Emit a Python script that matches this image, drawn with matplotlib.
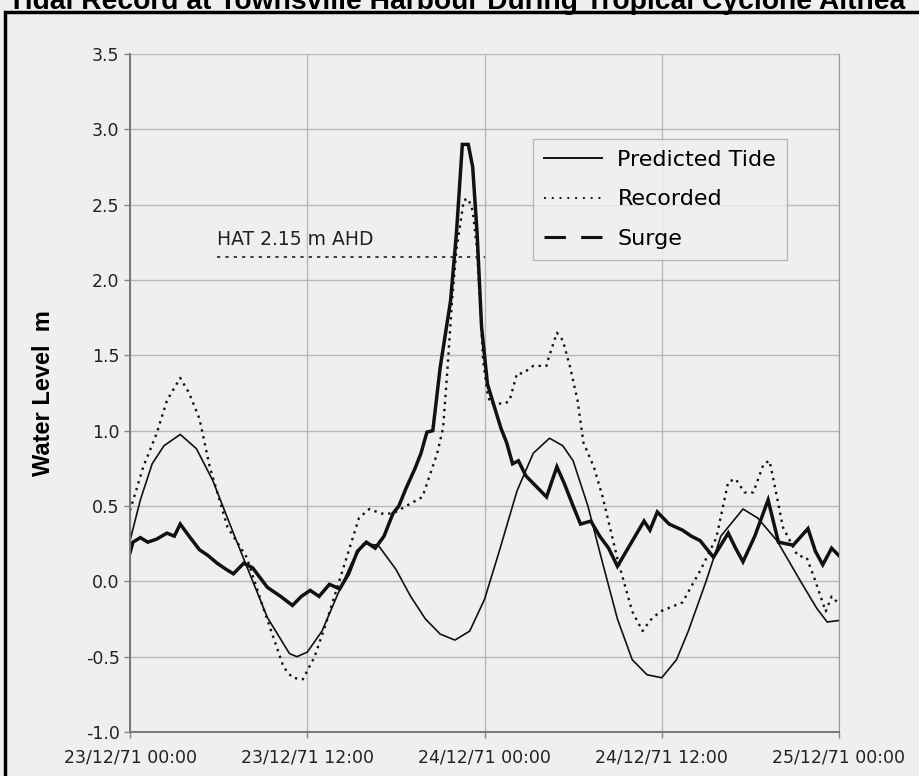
import matplotlib
matplotlib.use("Agg")
import matplotlib.pyplot as plt
from matplotlib.lines import Line2D
from matplotlib.patches import Rectangle

# hours after 23/12/71 00:00
tide_hours = [0, 0.7, 1.5, 2.3, 3.4, 4.5, 5.6, 7.0, 7.9, 9.3, 10.8, 11.3, 12.0, 13.0, 14.0, 15.0,
              15.8, 16.8, 18.0, 19.0, 20.0, 21.0, 22.0, 23.0, 24.0, 25.0, 26.2, 27.3, 28.4, 29.3,
              30.0, 31.0, 32.0, 33.0, 34.0, 35.0, 36.0, 37.0, 37.8, 39.0, 40.0, 41.5, 42.5, 43.8,
              45.4, 46.5, 47.2, 48.0]
tide = [0.27, 0.54, 0.78, 0.9, 0.975, 0.88, 0.67, 0.32, 0.1, -0.24, -0.48, -0.5, -0.47, -0.33,
        -0.1, 0.12, 0.25, 0.24, 0.08, -0.1, -0.25, -0.35, -0.39, -0.33, -0.12, 0.2, 0.6, 0.85,
        0.95, 0.9, 0.8, 0.5, 0.12, -0.25, -0.52, -0.62, -0.64, -0.52, -0.33, 0.0, 0.3, 0.48,
        0.42, 0.27, 0.0, -0.18, -0.27, -0.26]

rec_hours = [0, 0.9, 1.8, 2.5, 3.4, 4.0, 4.7, 5.4, 6.6, 7.9, 9.0, 10.4, 11.0, 11.7, 12.5, 13.2,
             14.0, 14.8, 15.5, 16.2, 17.0, 17.8, 18.7, 19.8, 20.8, 21.2, 21.5, 21.8, 22.1, 22.6,
             22.9, 23.2, 23.5, 23.7, 23.9, 24.2, 24.4, 25.4, 25.7, 26.2, 26.6, 27.3, 28.2, 28.3,
             28.9, 29.3, 29.8, 30.3, 30.7, 31.4, 32.0, 33.0, 34.0, 34.7, 35.2, 35.9, 37.4, 38.6,
             39.7, 40.5, 41.0, 41.6, 42.2, 42.9, 43.3, 43.8, 44.2, 45.2, 45.8, 46.3, 47.1, 47.5,
             48.0]
recorded = [0.47, 0.76, 0.98, 1.2, 1.35, 1.25, 1.08, 0.76, 0.36, 0.16, -0.17, -0.57, -0.64,
            -0.65, -0.5, -0.3, -0.05, 0.2, 0.42, 0.48, 0.45, 0.45, 0.5, 0.56, 0.85, 1.02, 1.42,
            1.86, 2.2, 2.53, 2.54, 2.46, 2.2, 1.86, 1.47, 1.25, 1.18, 1.18, 1.2, 1.38, 1.38, 1.43,
            1.43, 1.47, 1.65, 1.6, 1.42, 1.2, 0.92, 0.76, 0.56, 0.15, -0.2, -0.33, -0.26, -0.2,
            -0.14, 0.07, 0.29, 0.66, 0.68, 0.59, 0.59, 0.78, 0.8, 0.56, 0.36, 0.17, 0.16, 0.03,
            -0.2, -0.1, -0.15]

surge_hours = [0, 0.2, 0.7, 1.2, 1.8, 2.5, 3.0, 3.4, 4.0, 4.7, 5.3, 5.9, 6.5, 7.0, 7.7, 8.3,
               9.3, 10.2, 11.0, 11.6, 12.2, 12.8, 13.5, 14.2, 14.8, 15.4, 16.0, 16.6, 17.2, 17.8,
               18.2, 18.7, 19.3, 19.7, 20.1, 20.5, 21.0, 21.7, 22.1, 22.5, 22.9, 23.2, 23.5, 23.8,
               24.2, 24.6, 25.1, 25.5, 25.9, 26.3, 26.8, 27.3, 28.2, 28.9, 29.4, 30.0, 30.5, 31.2,
               31.8, 32.4, 33.0, 33.6, 34.2, 34.8, 35.2, 35.7, 36.5, 37.4, 38.0, 38.6, 39.5, 40.5,
               41.0, 41.5, 42.3, 43.2, 43.9, 44.9, 45.9, 46.4, 46.9, 47.5, 48.0]
surge = [0.19, 0.26, 0.29, 0.26, 0.28, 0.32, 0.3, 0.38, 0.3, 0.21, 0.17, 0.12, 0.08, 0.05, 0.12,
         0.09, -0.04, -0.1, -0.16, -0.1, -0.06, -0.1, -0.02, -0.05, 0.05, 0.2, 0.26, 0.22, 0.3,
         0.45, 0.5, 0.62, 0.75, 0.85, 0.99, 1.0, 1.42, 1.86, 2.31, 2.9, 2.9, 2.75, 2.31, 1.69,
         1.31, 1.18, 1.02, 0.92, 0.78, 0.8, 0.7, 0.65, 0.56, 0.76, 0.65, 0.5, 0.38, 0.4, 0.3,
         0.22, 0.1, 0.2, 0.3, 0.4, 0.34, 0.46, 0.38, 0.34, 0.3, 0.27, 0.16, 0.32, 0.22, 0.13,
         0.3, 0.54, 0.26, 0.24, 0.35, 0.2, 0.11, 0.22, 0.17]

hat_level = 2.15
hat_hours = [5.9, 24.0]

tick_hours = [0, 12, 24, 36, 48]
tick_labels = ["23/12/71 00:00", "23/12/71 12:00", "24/12/71 00:00", "24/12/71 12:00", "25/12/71 00:00"]
y_ticks = [-1.0, -0.5, 0.0, 0.5, 1.0, 1.5, 2.0, 2.5, 3.0, 3.5]

bg = "#efefed"
fig = plt.figure(figsize=(9.19, 7.76), dpi=100, facecolor=bg)
ax = fig.add_axes([130 / 919, 1 - 732 / 776, 709 / 919, 678 / 776], facecolor=bg)

ax.plot(tide_hours, tide, color="#111111", lw=1.2)
ax.plot(rec_hours, recorded, color="#111111", lw=1.7, linestyle=(0, (1, 2)))
ax.plot(surge_hours, surge, color="#111111", lw=2.5, solid_joinstyle="miter")
ax.plot(hat_hours, [hat_level, hat_level], color="#222222", lw=1.2, linestyle=(0, (2, 3)))
ax.text(hat_hours[0], 2.27, "HAT 2.15 m AHD", fontsize=13.5, color="#222222", va="center")

ax.set_xlim(0, 48)
ax.set_ylim(-1.0, 3.5)
ax.set_xticks(tick_hours)
ax.set_xticklabels(tick_labels)
ax.set_yticks(y_ticks)
ax.set_yticklabels([f"{v:.1f}" for v in y_ticks])
ax.tick_params(axis="both", labelsize=12.5, colors="#888888", labelcolor="#222222", length=4, width=1)
ax.tick_params(axis="x", pad=8)
ax.grid(True, color="#b8b8b8", lw=1)
ax.set_axisbelow(True)
for side in ["left", "bottom"]:
    ax.spines[side].set_color("#777777")
    ax.spines[side].set_linewidth(1.4)
ax.spines["right"].set_color("#999999")
ax.spines["top"].set_visible(False)

ax.set_ylabel("Water Level  m", family="Liberation Sans", fontweight="bold", fontsize=17, labelpad=22)

handles = [Line2D([], [], color="#111111", lw=1.4),
           Line2D([], [], color="#111111", lw=1.4, linestyle=(0, (1, 3))),
           Line2D([], [], color="#111111", lw=2.2, linestyle=(0, (7, 5)))]
leg = ax.legend(handles, ["Predicted Tide", "Recorded", "Surge"], loc="upper left",
                bbox_to_anchor=((533 - 130) / 709, (732 - 139) / 678), borderaxespad=0,
                fontsize=16, frameon=True, fancybox=False, handlelength=2.6, labelspacing=0.87,
                borderpad=0.5, handletextpad=0.7)
leg.get_frame().set_edgecolor("#aaaaaa")
leg.get_frame().set_facecolor(bg)
leg.get_frame().set_linewidth(1)

fig.text(0.497, 1 - 9 / 776, "Tidal Record at Townsville Harbour During Tropical Cyclone Althea",
         ha="center", va="baseline", fontsize=20.3, fontweight="bold", family="Liberation Sans")
fig.patches.append(Rectangle((5 / 919, -0.05), 1.1, 1 - 12 / 776 + 0.05, transform=fig.transFigure,
                             fill=False, edgecolor="black", lw=2.5))

fig.savefig("out.png", dpi=100, facecolor=bg)
